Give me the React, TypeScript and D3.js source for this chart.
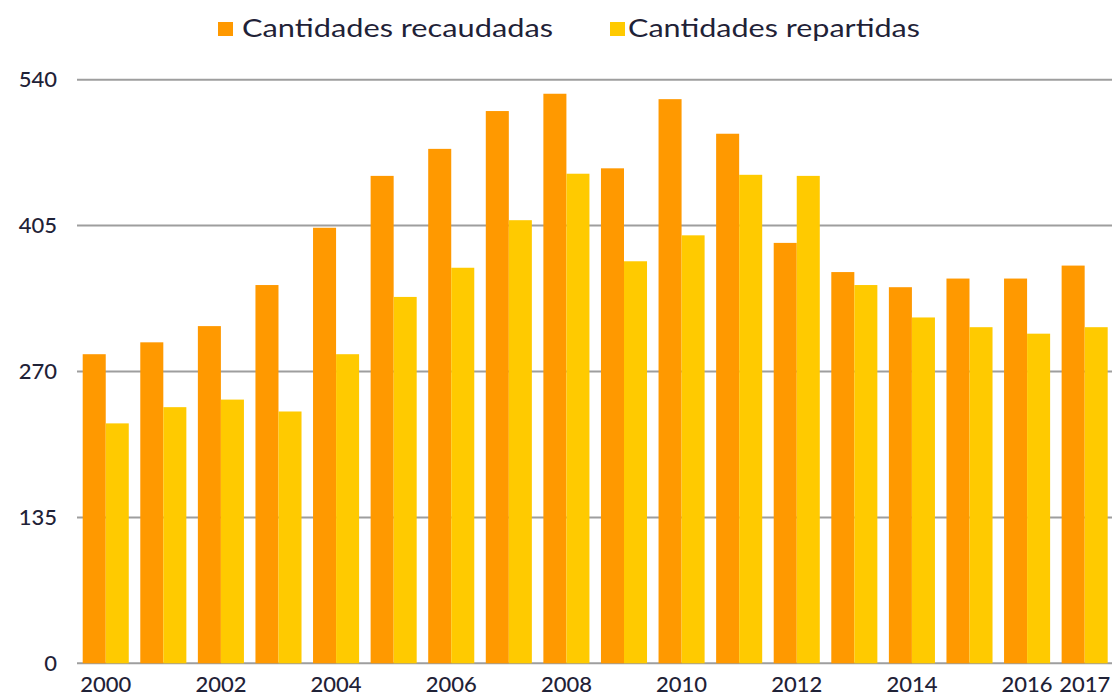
import React from "react";
import * as d3 from "d3";

const years = ["2000","2001","2002","2003","2004","2005","2006","2007","2008","2009","2010","2011","2012","2013","2014","2015","2016","2017"];
const recaudadas = [286, 297, 312, 350, 403, 451, 476, 511, 527, 458, 522, 490, 389, 362, 348, 356, 356, 368];
const repartidas = [222, 237, 244, 233, 286, 339, 366, 410, 453, 372, 396, 452, 451, 350, 320, 311, 305, 311];
const yTicks = [0, 135, 270, 405, 540];
const xLabels = ["2000","2002","2004","2006","2008","2010","2012","2014","2016","2017"];
const seriesNames = ["Cantidades recaudadas", "Cantidades repartidas"];

const W = 1118, H = 698;
const ORANGE = "#FF9900";
const YELLOW = "#FFCA00";
const TEXT = "#1f2237";
const FONT = "Lato, 'Open Sans', sans-serif";

export default function App() {
  const x = d3.scaleBand<string>().domain(years).range([82.7, 1107.7]).paddingInner(0.2).paddingOuter(0);
  const inner = d3.scaleBand<string>().domain(["a", "b"]).range([0, x.bandwidth()]);
  const y = d3.scaleLinear().domain([0, 540]).range([663.3, 79.7]);
  const gx0 = 77, gx1 = 1112;

  return (
    <svg width={W} height={H} style={{ position: "absolute", left: 0, top: 0, background: "#fff" }} fontFamily={FONT}>
      {yTicks.map((t) => (
        <line key={t} x1={gx0} x2={gx1} y1={y(t)} y2={y(t)} stroke="#9e9e9e" strokeWidth={2} />
      ))}
      {yTicks.map((t) => (
        <text key={"l" + t} x={57} y={y(t)} dy="0.35em" textAnchor="end" fontSize={22} fontWeight={500} fill={TEXT}>{t}</text>
      ))}
      {years.map((yr, i) => (
        <g key={yr} transform={`translate(${x(yr)},0)`}>
          <rect x={inner("a")} y={y(recaudadas[i])} width={inner.bandwidth()} height={y(0) - y(recaudadas[i])} fill={ORANGE} />
          <rect x={inner("b")} y={y(repartidas[i])} width={inner.bandwidth()} height={y(0) - y(repartidas[i])} fill={YELLOW} />
        </g>
      ))}
      {xLabels.map((yr) => (
        <text key={"x" + yr} x={(x(yr) as number) + x.bandwidth() / 2} y={692} textAnchor="middle" fontSize={22} fontWeight={500} fill={TEXT}>{yr}</text>
      ))}
      <rect x={218} y={22} width={15} height={14} fill={ORANGE} />
      <text x={242} y={37} fontSize={25} fill={TEXT} textLength={311} lengthAdjust="spacingAndGlyphs">{seriesNames[0]}</text>
      <rect x={610} y={22} width={15} height={14} fill={YELLOW} />
      <text x={628} y={37} fontSize={25} fill={TEXT} textLength={292} lengthAdjust="spacingAndGlyphs">{seriesNames[1]}</text>
    </svg>
  );
}
